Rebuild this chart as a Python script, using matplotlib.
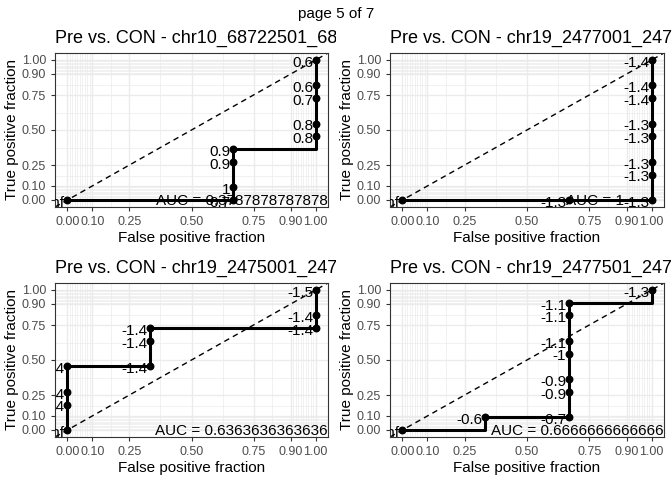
import numpy as np
import matplotlib
matplotlib.use("Agg")
import matplotlib.pyplot as plt
from matplotlib.transforms import Bbox, TransformedBbox

plt.rcParams['font.family'] = ['Liberation Sans', 'DejaVu Sans']

titles = [
    "Pre vs. CON - chr10_68722501_68723000",
    "Pre vs. CON - chr19_2477001_2477500",
    "Pre vs. CON - chr19_2475001_2475500",
    "Pre vs. CON - chr19_2477501_2478000",
]

# step paths (FPR, TPR)
path_fpr = [
    [0, 0.667, 0.667, 0.667, 0.667, 1, 1, 1, 1, 1, 1],
    [0, 0.667, 1, 1, 1, 1, 1, 1, 1, 1],
    [0, 0, 0, 0, 0.333, 0.333, 0.333, 1, 1, 1],
    [0, 0.333, 0.333, 0.667, 0.667, 0.667, 0.667, 0.667, 0.667, 0.667, 1, 1],
]
path_tpr = [
    [0, 0, 0.091, 0.273, 0.364, 0.364, 0.455, 0.545, 0.727, 0.818, 1],
    [0, 0, 0, 0.182, 0.273, 0.455, 0.545, 0.727, 0.818, 1],
    [0, 0.182, 0.273, 0.455, 0.455, 0.636, 0.727, 0.727, 0.818, 1],
    [0, 0, 0.091, 0.091, 0.273, 0.364, 0.545, 0.636, 0.818, 0.909, 0.909, 1],
]

# labelled cutoff points
pt_fpr = [
    [0, 0.667, 0.667, 0.667, 0.667, 1, 1, 1, 1, 1],
    [0, 0.667, 1, 1, 1, 1, 1, 1, 1, 1],
    [0, 0, 0, 0, 0.333, 0.333, 0.333, 1, 1, 1],
    [0, 0.333, 0.667, 0.667, 0.667, 0.667, 0.667, 0.667, 0.667, 1],
]
pt_tpr = [
    [0, 0, 0.091, 0.273, 0.364, 0.455, 0.545, 0.727, 0.818, 1],
    [0, 0, 0, 0.182, 0.273, 0.455, 0.545, 0.727, 0.818, 1],
    [0, 0.182, 0.273, 0.455, 0.455, 0.636, 0.727, 0.727, 0.818, 1],
    [0, 0.091, 0.091, 0.273, 0.364, 0.545, 0.636, 0.818, 0.909, 1],
]
pt_labels = [
    ["Inf", "0.7", "1", "0.9", "0.9", "0.8", "0.8", "0.7", "0.6", "0.6"],
    ["Inf", "-1.3", "-1.3", "-1.3", "-1.3", "-1.3", "-1.3", "-1.4", "-1.4", "-1.4"],
    ["Inf", "-1.4", "-1.4", "-1.4", "-1.4", "-1.4", "-1.4", "-1.4", "-1.4", "-1.5"],
    ["Inf", "-0.6", "-0.7", "-0.9", "-0.9", "-1", "-1.1", "-1.1", "-1.1", "-1.3"],
]
auc_text = ["AUC = 0.3787878787878", "AUC = 1", "AUC = 0.6363636363636", "AUC = 0.6666666666666"]
auc_x = [1.05, 0.89, 1.05, 1.05]

major = [0, 0.1, 0.25, 0.5, 0.75, 0.9, 1.0]
minor = sorted(set(np.round(np.r_[np.arange(0, 0.1, 0.01), np.arange(0.9, 1.001, 0.01),
                                   0.05, 0.175, 0.375, 0.625, 0.825, 0.95], 3)) - set(major))

fig = plt.figure(figsize=(6.72, 4.8), dpi=100)
fig.suptitle("page 5 of 7", y=0.985, fontsize=11)
boxes = [(55, 53, 328, 207), (390, 53, 664, 207), (55, 283, 328, 437), (390, 283, 664, 437)]
cols = [(0, 336), (336, 672), (0, 336), (336, 672)]

for i in range(4):
    x0, y0, x1, y1 = boxes[i]
    ax = fig.add_axes([x0 / 672, 1 - y1 / 480, (x1 - x0) / 672, (y1 - y0) / 480])
    ax.set_xlim(-0.05, 1.05)
    ax.set_ylim(-0.05, 1.05)
    ax.set_xticks(major)
    ax.set_yticks(major)
    ax.set_xticks(minor, minor=True)
    ax.set_yticks(minor, minor=True)
    ax.set_xticklabels(["0.00", "0.10", "0.25", "0.50", "0.75", "0.90", "1.00"])
    ax.set_yticklabels(["0.00", "0.10", "0.25", "0.50", "0.75", "0.90", "1.00"])
    ax.tick_params(labelsize=9, labelcolor="#4d4d4d", color="#333333", length=3, which="major")
    ax.tick_params(which="minor", length=0)
    ax.grid(True, which="major", color="#ebebeb", lw=1.0)
    ax.grid(True, which="minor", color="#ebebeb", lw=0.5)
    ax.set_axisbelow(True)
    for s in ax.spines.values():
        s.set_color("#333333")
        s.set_linewidth(0.8)
    ax.axline((0, 0), (1, 1), color="black", ls=(0, (4, 3)), lw=1)
    ax.plot(path_fpr[i], path_tpr[i], color="black", lw=2.2)
    ax.scatter(pt_fpr[i], pt_tpr[i], color="black", s=22, zorder=3)
    for fx, ty, lab in zip(pt_fpr[i], pt_tpr[i], pt_labels[i]):
        ax.text(fx - 0.01, ty - 0.02, lab, ha="right", va="center", fontsize=11, clip_on=True)
    ax.text(auc_x[i], -0.01, auc_text[i], ha="right", va="center", fontsize=11, clip_on=True)
    ax.set_xlabel("False positive fraction", fontsize=11, labelpad=2)
    ax.set_ylabel("True positive fraction", fontsize=11, labelpad=2)
    t = ax.text(0, 1.04, titles[i], transform=ax.transAxes, fontsize=13, ha="left", va="bottom")
    c0, c1 = cols[i]
    t.set_clip_box(TransformedBbox(Bbox([[c0 / 672, 0], [c1 / 672, 1]]), fig.transFigure))
    t.set_clip_on(True)

fig.savefig("out.png", dpi=100)
